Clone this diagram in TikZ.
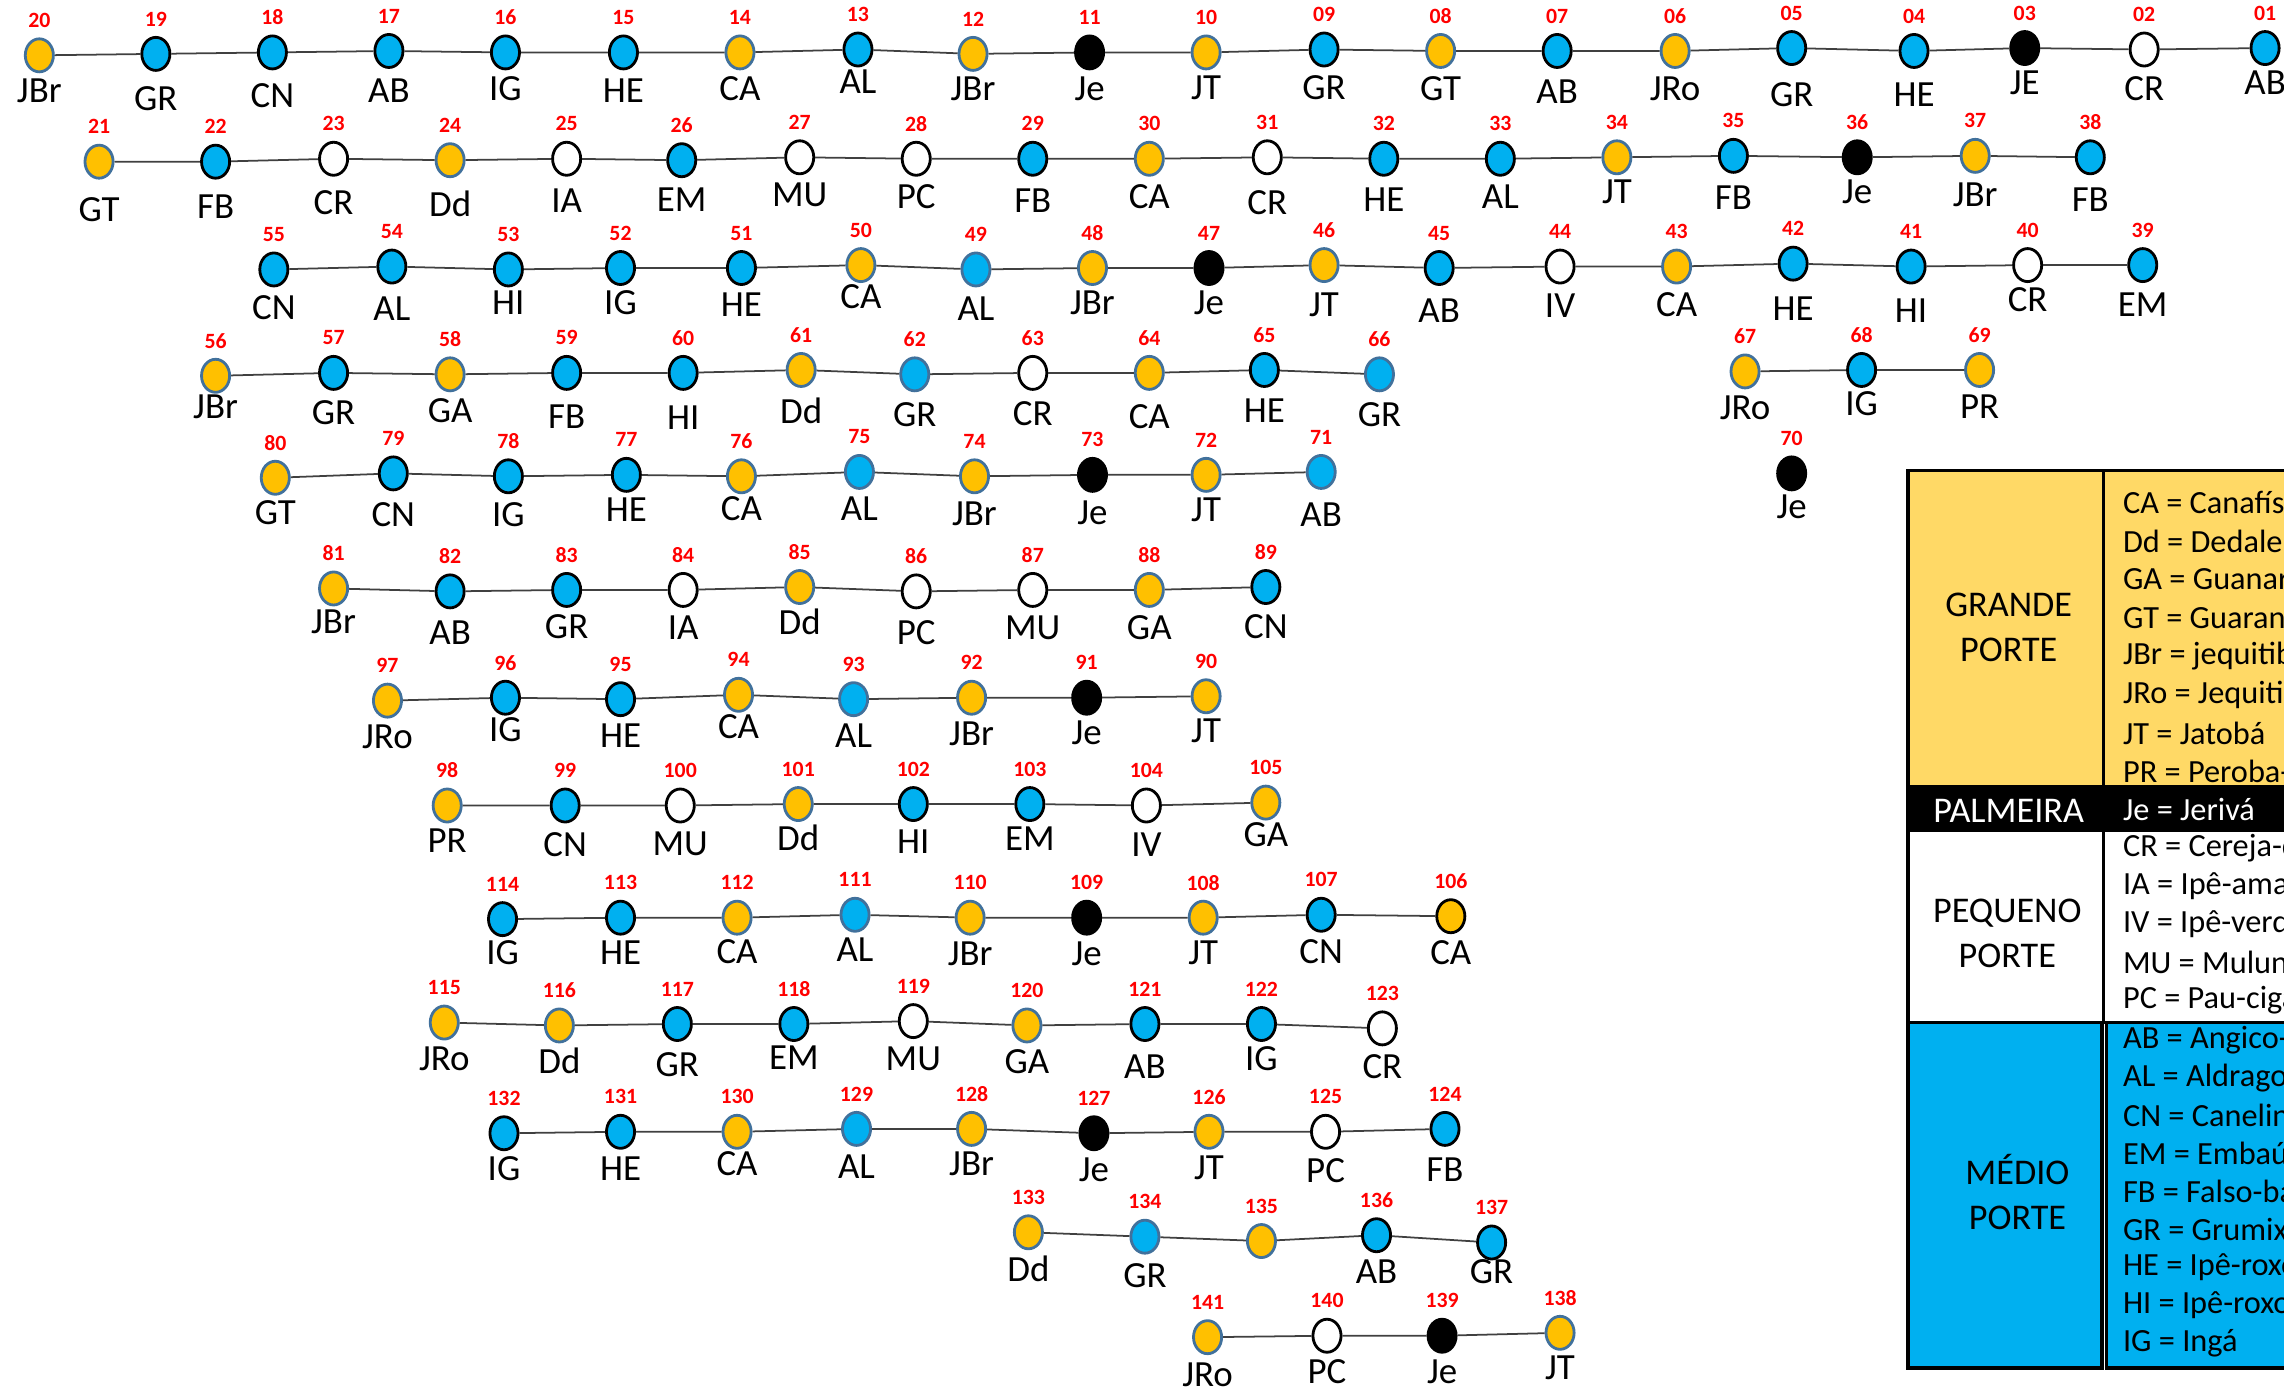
\documentclass[tikz,border=0pt]{standalone}
\usepackage{fontspec}
\setmainfont{Carlito}
\usetikzlibrary{shapes.geometric}
\definecolor{amarelo}{HTML}{FFC000}
\definecolor{azul}{HTML}{00B0F0}
\definecolor{contorno}{HTML}{41719C}
\definecolor{amareloclaro}{HTML}{FFD966}
\definecolor{vermelho}{HTML}{FF0000}

\begin{document}
\begin{tikzpicture}[
  x=0.1457mm, y=-0.1457mm,
  arvore/.style={ellipse, minimum width=8pt, minimum height=9.4pt,
                 inner sep=0pt, line width=0.8pt},
  grande/.style={arvore, draw=contorno, fill=amarelo},
  grandek/.style={arvore, draw=black, fill=amarelo},
  medio/.style={arvore, draw=black, fill=azul},
  medioc/.style={arvore, draw=contorno, fill=azul},
  pequeno/.style={arvore, draw=black, fill=white},
  palm/.style={arvore, draw=black, fill=black},
  num/.style={font=\fontsize{6.2}{7}\selectfont\bfseries, text=vermelho, inner sep=0pt},
  nome/.style={font=\fontsize{10.5}{12}\selectfont, inner sep=0pt},
  liga/.style={line width=0.5pt, black!75},
  tab/.style={draw=black, line width=1pt},
  cat/.style={font=\fontsize{10.3}{12.8}\selectfont, align=center, inner sep=0pt},
  leg/.style={font=\fontsize{9.2}{10}\selectfont, anchor=west, inner sep=0pt},
]
\useasboundingbox (0,0) rectangle (1568,956);
\clip (0,0) rectangle (1568,956);

% Legend table
\draw[tab, fill=amareloclaro] (1310,323) rectangle (1444,540);
\draw[tab, fill=amareloclaro] (1444,323) rectangle (1620,540);
\draw[tab, fill=black] (1310,540) rectangle (1620,570);
\draw[tab, fill=white] (1310,570) rectangle (1444,702);
\draw[tab, fill=white] (1444,570) rectangle (1620,702);
\draw[tab, fill=azul] (1310,702) rectangle (1443,939);
\draw[tab, fill=azul] (1446,702) rectangle (1620,939);

\node[cat] (lgrande) at (1379,431) {GRANDE\\PORTE};
\node[cat, text=white] (lpalm) at (1379,557) {PALMEIRA};
\node[cat] (lpequeno) at (1378,641) {PEQUENO\\PORTE};
\node[cat] (lmedio) at (1385,818) {MÉDIO\\PORTE};

\foreach \txt [count=\k] in {CA = Canafíst, Dd = Dedalei, GA = Guanar, GT = Guaran,
    JBr = jequitib, JRo = Jequiti, JT = Jatobá, PR = Peroba-}
  \node[leg] (g\k) at (1457,{345+26.4*(\k-1)}) {\txt};
\node[leg, text=white] (p1) at (1457,556) {Je = Jerivá};
\foreach \txt [count=\k] in {CR = Cereja-d, IA = Ipê-ama, IV = Ipê-verd, MU = Mulun,
    PC = Pau-ciga}
  \node[leg] (q\k) at (1457,{582+26.2*(\k-1)}) {\txt};
\foreach \txt [count=\k] in {AB = Angico-, AL = Aldrago, CN = Canelin, EM = Embaú,
    FB = Falso-ba, GR = Grumix, HE = Ipê-roxo, HI = Ipê-roxo, IG = Ingá}
  \node[leg] (m\k) at (1457,{714+26*(\k-1)}) {\txt};

% Trees: number / x / y / type / name / name offset
\foreach \n/\x/\y/\s/\nm/\d in {
    20/27/38/grande/JBr/24, 19/107/37/medio/GR/31, 18/187/36/medio/CN/30,
    17/267/35/medio/AB/27, 16/347/36/medio/IG/25, 15/428/36/medio/HE/26,
    14/508/36/grande/CA/25, 13/589/34/medio/AL/22, 12/668/37/grande/JBr/24,
    11/748/36/palm/Je/25, 10/828/36/grande/JT/24, 09/909/34/medio/GR/26,
    08/989/35/grande/GT/26, 07/1069/35/medio/AB/28, 06/1150/35/grande/JRo/26,
    05/1230/33/medio/GR/32, 04/1314/35/medio/HE/30, 03/1390/33/palm/JE/24,
    02/1472/34/pequeno/CR/27, 01/1555/33/medio/AB/24,
    21/68/111/grande/GT/33, 22/148/111/medio/FB/31, 23/229/109/pequeno/CR/30,
    24/309/110/grande/Dd/30, 25/389/109/pequeno/IA/29, 26/468/110/medio/EM/27,
    27/549/108/pequeno/MU/26, 28/629/109/pequeno/PC/26, 29/709/109/medio/FB/29,
    30/789/109/grande/CA/26, 31/870/108/pequeno/CR/31, 32/950/109/medio/HE/28,
    33/1030/109/medio/AL/26, 34/1110/108/grande/JT/24, 35/1190/107/medio/FB/29,
    36/1275/108/palm/Je/24, 37/1356/107/grande/JBr/27, 38/1435/108/medio/FB/29,
    55/188/185/medio/CN/26, 54/269/183/medio/AL/29, 53/349/185/medio/HI/23,
    52/426/184/medio/IG/24, 51/509/184/medio/HE/25, 50/591/182/grande/CA/22,
    49/670/185/medioc/AL/27, 48/750/184/grande/JBr/24, 47/830/184/palm/Je/24,
    46/909/182/grande/JT/27, 45/988/184/medio/AB/29, 44/1071/183/pequeno/IV/27,
    43/1151/183/grande/CA/26, 42/1231/181/medio/HE/31, 41/1312/183/medio/HI/30,
    40/1392/182/pequeno/CR/24, 39/1471/182/medio/EM/27,
    56/148/258/grande/JBr/21, 57/229/256/medio/GR/27, 58/309/257/grande/GA/25,
    59/389/256/medio/FB/30, 60/469/256/medio/HI/31, 61/550/254/grande/Dd/28,
    62/628/257/medioc/GR/28, 63/709/256/pequeno/CR/28, 64/789/256/grande/CA/30,
    65/868/254/medio/HE/28, 66/947/257/medioc/GR/28,
    67/1198/255/grande/JRo/25, 68/1278/254/medio/IG/23, 69/1359/254/grande/PR/25,
    80/189/328/grande/GT/24, 79/270/325/medio/CN/28, 78/349/327/medio/IG/26,
    77/430/326/medio/HE/24, 76/509/327/grande/CA/22, 75/590/324/medioc/AL/25,
    74/669/327/grande/JBr/26, 73/750/326/palm/Je/26, 72/828/326/grande/JT/24,
    71/907/324/medioc/AB/29, 70/1230/325/palm/Je/23,
    81/229/404/grande/JBr/23, 82/309/406/medio/AB/28, 83/389/405/medio/GR/25,
    84/469/405/pequeno/IA/26, 85/549/403/grande/Dd/24, 86/629/406/pequeno/PC/28,
    87/709/405/pequeno/MU/26, 88/789/405/grande/GA/26, 89/869/403/medio/CN/27,
    97/266/481/grande/JRo/25, 96/347/479/medio/IG/22, 95/426/480/medio/HE/25,
    94/507/477/grande/CA/22, 93/586/480/medioc/AL/25, 92/667/479/grande/JBr/25,
    91/746/479/palm/Je/24, 90/828/478/grande/JT/24,
    98/307/553/grande/PR/24, 99/388/553/medio/CN/27, 100/467/553/pequeno/MU/26,
    101/548/552/grande/Dd/23, 102/627/552/medio/HI/26, 103/707/552/medio/EM/24,
    104/787/553/pequeno/IV/27, 105/869/551/grande/GA/22,
    114/345/631/medio/IG/23, 113/426/630/medio/HE/24, 112/506/630/grande/CA/23,
    111/587/628/medioc/AL/24, 110/666/630/grande/JBr/25, 109/746/630/palm/Je/25,
    108/826/630/grande/JT/24, 107/907/628/medio/CN/25, 106/996/629/grandek/CA/25,
    115/305/702/grande/JRo/25, 116/384/704/grande/Dd/24, 117/465/703/medio/GR/28,
    118/545/703/medio/EM/23, 119/627/701/pequeno/MU/26, 120/705/704/grande/GA/25,
    121/786/703/medio/AB/29, 122/866/703/medio/IG/24, 123/949/706/pequeno/CR/26,
    132/346/778/medio/IG/24, 131/426/777/medio/HE/25, 130/506/777/grande/CA/22,
    129/588/775/medioc/AL/26, 128/667/775/grande/JBr/24, 127/751/778/palm/Je/25,
    126/830/777/grande/JT/25, 125/910/777/pequeno/PC/27, 124/992/775/medio/FB/28,
    133/706/846/grande/Dd/25, 134/786/849/medioc/GR/27, 135/866/852/grande//25,
    136/945/848/medio/AB/25, 137/1024/853/medio/GR/20,
    141/829/918/grande/JRo/26, 140/911/917/pequeno/PC/25, 139/990/917/palm/Je/25,
    138/1071/915/grande/JT/24}
{
  \node[style=\s] (t\n) at (\x,\y) {};
  \node[num] (r\n) at (\x,{\y-24}) {\n};
  \node[nome] (n\n) at (\x,{\y+\d}) {\nm};
}

% Rows
\draw[liga] (t20) -- (t19) -- (t18) -- (t17) -- (t16) -- (t15) -- (t14) -- (t13) -- (t12)
  -- (t11) -- (t10) -- (t09) -- (t08) -- (t07) -- (t06) -- (t05) -- (t04) -- (t03) -- (t02) -- (t01);
\draw[liga] (t21) -- (t22) -- (t23) -- (t24) -- (t25) -- (t26) -- (t27) -- (t28) -- (t29)
  -- (t30) -- (t31) -- (t32) -- (t33) -- (t34) -- (t35) -- (t36) -- (t37) -- (t38);
\draw[liga] (t55) -- (t54) -- (t53) -- (t52) -- (t51) -- (t50) -- (t49) -- (t48) -- (t47)
  -- (t46) -- (t45) -- (t44) -- (t43) -- (t42) -- (t41) -- (t40) -- (t39);
\draw[liga] (t56) -- (t57) -- (t58) -- (t59) -- (t60) -- (t61) -- (t62) -- (t63) -- (t64)
  -- (t65) -- (t66);
\draw[liga] (t67) -- (t68) -- (t69);
\draw[liga] (t80) -- (t79) -- (t78) -- (t77) -- (t76) -- (t75) -- (t74) -- (t73) -- (t72) -- (t71);
\draw[liga] (t81) -- (t82) -- (t83) -- (t84) -- (t85) -- (t86) -- (t87) -- (t88) -- (t89);
\draw[liga] (t97) -- (t96) -- (t95) -- (t94) -- (t93) -- (t92) -- (t91) -- (t90);
\draw[liga] (t98) -- (t99) -- (t100) -- (t101) -- (t102) -- (t103) -- (t104) -- (t105);
\draw[liga] (t114) -- (t113) -- (t112) -- (t111) -- (t110) -- (t109) -- (t108) -- (t107) -- (t106);
\draw[liga] (t115) -- (t116) -- (t117) -- (t118) -- (t119) -- (t120) -- (t121) -- (t122) -- (t123);
\draw[liga] (t132) -- (t131) -- (t130) -- (t129) -- (t128) -- (t127) -- (t126) -- (t125) -- (t124);
\draw[liga] (t133) -- (t134) -- (t135) -- (t136) -- (t137);
\draw[liga] (t141) -- (t140) -- (t139) -- (t138);

\end{tikzpicture}
\end{document}
